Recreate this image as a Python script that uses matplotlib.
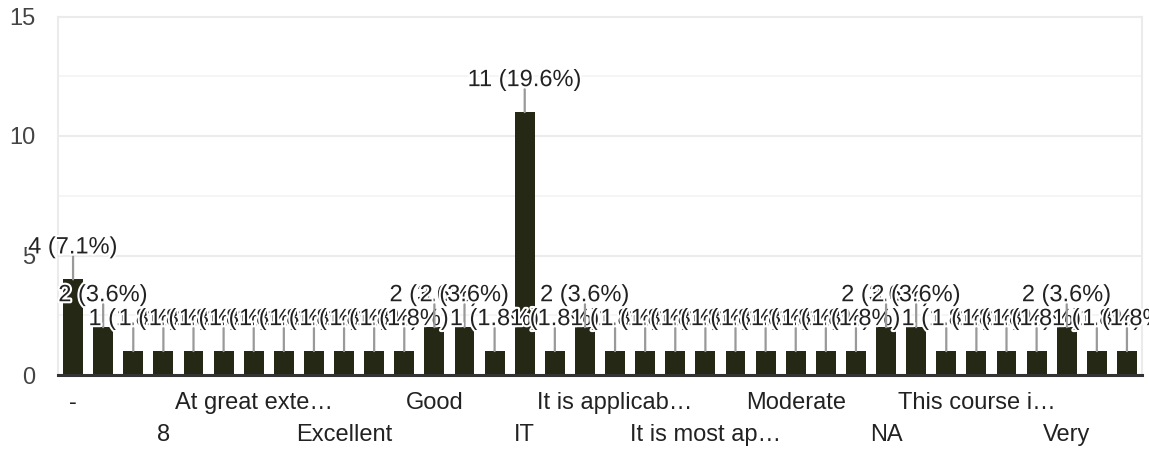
import matplotlib
matplotlib.use("Agg")
import matplotlib.pyplot as plt
import matplotlib.patheffects as pe
from matplotlib.ticker import MultipleLocator

plt.rcParams["font.family"] = ["Liberation Sans", "DejaVu Sans"]

# Response counts per answer, in answer order
counts = [4, 2, 1, 1, 1, 1, 1, 1, 1, 1, 1, 1,
          2, 2, 1, 11, 1, 2, 1, 1, 1, 1, 1, 1,
          1, 1, 1, 2, 2, 1, 1, 1, 1, 2, 1, 1]

# Category labels shown on the axis (every third answer, alternating rows)
row1_labels = ["-", "At great exte…", "Good", "It is applicab…", "Moderate", "This course i…"]
row2_labels = ["8", "Excellent", "IT", "It is most ap…", "NA", "Very"]

y_ticks = [0, 5, 10, 15]

BAR = "#252814"
GRID = "#ebebeb"
TXT = "#222222"

total = sum(counts)
xs = list(range(len(counts)))

fig = plt.figure(figsize=(11.49, 4.53), dpi=100)
ax = fig.add_axes([58 / 1149, 78 / 453, (1142 - 58) / 1149, (436.5 - 78) / 453])

ax.bar(xs, counts, width=0.66, color=BAR, zorder=2)

ax.set_xlim(-0.5, len(counts) - 0.5)
ax.set_ylim(0, 15)
ax.set_yticks(y_ticks)
ax.yaxis.set_minor_locator(MultipleLocator(2.5))
ax.set_axisbelow(True)
ax.grid(axis="y", which="major", color=GRID, lw=1.5)
ax.grid(axis="y", which="minor", color="#f4f4f4", lw=1.2)

for side in ("left", "right", "top"):
    ax.spines[side].set_color(GRID)
    ax.spines[side].set_linewidth(1.5)
ax.spines["bottom"].set_color("#333333")
ax.spines["bottom"].set_linewidth(2.2)
ax.spines["bottom"].set_zorder(3)

ax.tick_params(axis="y", which="both", length=0, pad=16.5, labelsize=17, labelcolor="#444444")

# Two staggered rows of category labels
ax.set_xticks(xs[0::6], row1_labels)
ax.set_xticks(xs[3::6], row2_labels, minor=True)
ax.tick_params(axis="x", which="major", length=0, pad=12.5, labelsize=17, labelcolor=TXT)
ax.tick_params(axis="x", which="minor", length=0, pad=35.5, labelsize=17, labelcolor=TXT)

# Value annotations with leader stems, each drawn over the previous one
halo = [pe.withStroke(linewidth=3, foreground="white")]
for i, (x, c) in enumerate(zip(xs, counts)):
    z = 10 + 2 * i
    ax.annotate("", xy=(x, c), xytext=(0, 16.6), textcoords="offset points",
                arrowprops=dict(arrowstyle="-", color="#999999", lw=1.6,
                                shrinkA=0, shrinkB=0),
                zorder=z, annotation_clip=False)
    ax.annotate(f"{c} ({c / total * 100:.1f}%)", xy=(x, c), xytext=(0, 18.7),
                textcoords="offset points", ha="center", va="baseline",
                fontsize=17, color=TXT, path_effects=halo, zorder=z + 1,
                annotation_clip=False)

fig.savefig("out.png", dpi=100)
